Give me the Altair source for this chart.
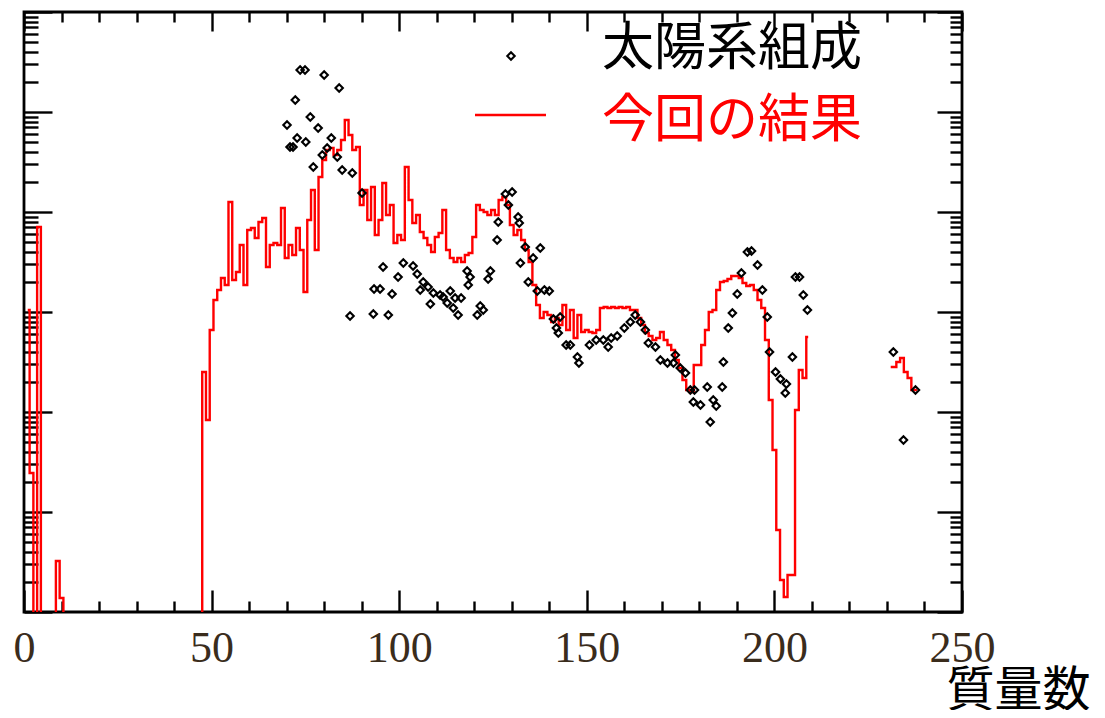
import altair as alt
import pandas as pd

# ---------------- data ----------------
# log10 of abundance; -9 marks values that fall below the plotted range
red_mass_low = [1, 2, 3, 4, 5, 6, 7, 8, 9, 10, 11, 47]
red_log10_low = [-2.98, -4.61, -9, -2.15, -9, -9, -9, -9, -5.49, -5.86, -9, -9]

red_mass_mid = list(range(48, 210))
red_log10_mid = [
    -3.60, -4.08, -3.18, -2.88, -2.78, -2.66, -2.73, -1.90, -2.68, -2.60,  # 48-57
    -2.33, -2.73, -2.18, -2.16, -2.26, -2.10, -2.06, -2.55, -2.33, -2.31,  # 58-67
    -2.33, -1.96, -2.46, -2.33, -2.43, -2.16, -2.38, -2.80, -2.08, -1.78,  # 68-77
    -2.38, -1.65, -1.48, -1.38, -1.36, -1.43, -1.38, -1.28, -1.08, -1.23,  # 78-87
    -1.38, -1.35, -1.93, -1.78, -2.08, -1.75, -2.23, -2.08, -1.71, -2.03,  # 88-97
    -1.93, -2.31, -2.23, -2.28, -1.55, -1.88, -2.11, -2.03, -2.20, -2.26,  # 98-107
    -2.33, -2.40, -2.25, -2.21, -1.98, -2.38, -2.46, -2.50, -2.46, -2.50,  # 108-117
    -2.43, -2.41, -2.25, -1.93, -1.98, -2.00, -2.03, -1.98, -2.03, -1.88,  # 118-127
    -1.85, -1.93, -2.13, -2.23, -2.18, -2.28, -2.38, -2.50, -2.73, -2.93,  # 128-137
    -3.06, -3.00, -3.03, -3.10, -3.06, -3.13, -2.93, -3.18, -2.98, -3.26,  # 138-147
    -3.03, -3.20, -3.18, -3.20, -3.21, -3.18, -2.96, -2.95, -2.96, -2.95,  # 148-157
    -2.96, -2.95, -2.96, -2.95, -2.98, -2.98, -3.06, -3.13, -3.21, -3.24,  # 158-167
    -3.28, -3.26, -3.20, -3.28, -3.33, -3.38, -3.48, -3.56, -3.68, -3.78,  # 168-177
    -3.80, -3.53, -3.53, -3.33, -3.18, -3.00, -2.98, -2.78, -2.70, -2.69,  # 178-187
    -2.67, -2.64, -2.64, -2.66, -2.71, -2.74, -2.73, -2.78, -2.88, -2.96,  # 188-197
    -3.28, -3.88, -4.38, -5.18, -5.68, -5.85, -5.63, -5.63, -3.98, -3.58,  # 198-207
    -3.66, -3.25,                                                          # 208-209
]

red_mass_tail = [231, 232, 233, 234, 235, 236, 237, 238]
red_log10_tail = [-3.55, -3.55, -3.50, -3.46, -3.60, -3.66, -3.78, -3.78]

solar_mass = [
    70.1, 70.9, 71.7, 72.3, 72.8, 73.6, 74.9, 75.1, 76.3, 77.1,
    78.4, 79.5, 80.0, 80.8, 81.9, 83.5, 84.0, 84.8, 86.9, 87.5,
    90.1, 93.1, 93.3, 94.9, 95.7, 97.1, 98.1, 99.7, 101.1, 103.7,
    104.8, 105.6, 106.4, 107.7, 108.3, 109.1, 110.9, 111.7, 112.8, 113.6,
    114.4, 114.9, 115.7, 116.5, 118.1, 118.4, 118.9, 120.8, 121.6, 122.4,
    123.7, 124.3, 126.1, 126.4, 128.3, 129.1, 130.1, 131.7, 132.0, 132.3,
    133.6, 134.4, 135.7, 136.8, 137.6, 138.7, 140.0, 141.1, 141.9, 142.4,
    142.9, 144.5, 145.6, 147.5, 147.9, 150.7, 152.5, 154.4, 155.7, 156.5,
    158.1, 160.0, 161.6, 162.9, 164.3, 165.6, 166.4, 168.3, 169.6, 171.5,
    173.1, 173.6, 174.9, 176.3, 177.6, 178.4, 178.7, 180.3, 182.1, 182.9,
    183.7, 184.5, 186.1, 186.4, 187.7, 188.8, 190.1, 191.2, 192.8, 193.9,
    195.5, 196.8, 198.1, 198.7, 200.3, 201.6, 202.9, 203.2, 204.8, 205.6,
    206.7, 207.7, 208.8, 231.7, 234.4, 237.6,
]
solar_log10 = [
    -1.13, -1.35, -1.35, -0.88, -1.26, -0.58, -0.58, -1.30, -1.05, -1.55,
    -1.16, -1.43, -0.63, -1.36, -1.26, -1.45, -0.76, -1.58, -3.04, -1.61,
    -1.81, -3.02, -2.77, -2.77, -2.55, -3.03, -2.82, -2.65, -2.51, -2.54,
    -2.62, -2.78, -2.70, -2.75, -2.92, -2.81, -2.83, -2.85, -2.91, -2.79,
    -2.96, -2.86, -3.03, -2.86, -2.59, -2.73, -2.65, -3.03, -2.94, -2.98,
    -2.67, -2.59, -2.28, -2.10, -1.82, -1.93, -1.80, -2.05, -2.11, -2.51,
    -2.35, -2.70, -2.46, -2.79, -2.36, -2.78, -2.79, -3.07, -3.16, -3.21,
    -3.05, -3.33, -3.33, -3.45, -3.51, -3.33, -3.28, -3.28, -3.35, -3.26,
    -3.24, -3.16, -3.10, -3.03, -3.10, -3.18, -3.31, -3.35, -3.48, -3.51,
    -3.51, -3.43, -3.56, -3.61, -3.78, -3.90, -3.78, -3.93, -3.75, -4.10,
    -3.88, -3.94, -3.75, -3.50, -3.16, -3.01, -2.82, -2.61, -2.40, -2.39,
    -2.53, -2.78, -3.05, -3.40, -3.60, -3.67, -3.81, -3.72, -3.45, -2.65,
    -2.65, -2.83, -2.98, -3.40, -4.28, -3.78,
]

x_tick_values = [0, 50, 100, 150, 200, 250]
x_minor_values = [10, 20, 30, 40, 60, 70, 80, 90, 110, 120, 130, 140,
                  160, 170, 180, 190, 210, 220, 230, 240]
y_decades = [1e-6, 1e-5, 1e-4, 1e-3, 1e-2, 1e-1, 1.0]
legend_labels = ["太陽系組成", "今回の結果"]
x_title = "質量数"

# ---------------- tables ----------------
red_df = pd.DataFrame({
    "mass": red_mass_low + red_mass_mid + red_mass_tail,
    "log10": red_log10_low + red_log10_mid + red_log10_tail,
    "seg": ["a"] * (len(red_mass_low) + len(red_mass_mid)) + ["b"] * len(red_mass_tail),
})
red_df["abundance"] = 10.0 ** red_df["log10"]

solar_df = pd.DataFrame({"mass": solar_mass, "log10": solar_log10})
solar_df["abundance"] = 10.0 ** solar_df["log10"]

y_minor_values = [k * d for d in y_decades[:-1] for k in range(2, 10)]

W, H = 938, 600
xs = alt.Scale(domain=[0, 250], nice=False, zero=False)
ys = alt.Scale(type="log", domain=[1e-6, 1], nice=False)

TICK = dict(domain=False, grid=False, labels=False, title=None,
            tickColor="black", tickWidth=2.4)


def tick_axis(values, size, orient):
    return alt.Axis(values=values, tickSize=size, offset=-size, orient=orient, **TICK)


label_axis = alt.Axis(
    values=x_tick_values, ticks=False, domain=False, grid=False,
    labelFont="Liberation Serif", labelFontSize=44, labelColor="#3a2c1c",
    labelPadding=14, labelFlush=False, labelOverlap=False,
    title=x_title, titleFont="Noto Sans CJK JP", titleFontSize=48,
    titleFontWeight="normal", titleColor="black",
    titleX=1066, titleY=93, titleAlign="right", titleBaseline="alphabetic",
)

red_line = alt.Chart(red_df).mark_line(
    color="#ff0000", strokeWidth=2.4, interpolate="step", clip=True
).encode(
    x=alt.X("mass:Q", scale=xs, axis=label_axis),
    y=alt.Y("abundance:Q", scale=ys, axis=tick_axis(y_decades, 28, "left")),
    detail="seg:N",
    order="mass:Q",
)

solar_pts = alt.Chart(solar_df).mark_point(
    shape="diamond", filled=False, color="black", size=55, strokeWidth=2.1,
    opacity=1, clip=True
).encode(
    x=alt.X("mass:Q", scale=xs, axis=tick_axis(x_tick_values, 22, "bottom")),
    y=alt.Y("abundance:Q", scale=ys, axis=tick_axis(y_minor_values, 14, "left")),
)

ghost1 = alt.Chart(solar_df).mark_point(opacity=0).encode(
    x=alt.X("mass:Q", scale=xs, axis=tick_axis(x_minor_values, 11, "bottom")),
    y=alt.Y("abundance:Q", scale=ys, axis=tick_axis(y_decades, 25, "right")),
)
ghost2 = alt.Chart(solar_df).mark_point(opacity=0).encode(
    x=alt.X("mass:Q", scale=xs, axis=tick_axis(x_tick_values, 19, "top")),
    y=alt.Y("abundance:Q", scale=ys, axis=tick_axis(y_minor_values, 12, "right")),
)
ghost3 = alt.Chart(solar_df).mark_point(opacity=0).encode(
    x=alt.X("mass:Q", scale=xs, axis=tick_axis(x_minor_values, 10, "top")),
    y=alt.Y("abundance:Q", scale=ys, axis=None),
)

leg1 = pd.DataFrame({"label": [legend_labels[0]]})
leg2 = pd.DataFrame({"label": [legend_labels[1]]})

leg_text1 = alt.Chart(leg1).mark_text(
    align="left", baseline="middle", font="Noto Sans CJK JP", fontSize=52, color="black"
).encode(x=alt.value(578), y=alt.value(37), text="label:N")
leg_text2 = alt.Chart(leg2).mark_text(
    align="left", baseline="middle", font="Noto Sans CJK JP", fontSize=52, color="#ff0000"
).encode(x=alt.value(578), y=alt.value(109), text="label:N")
leg_sym1 = alt.Chart(leg1).mark_point(
    shape="diamond", filled=False, color="black", size=55, strokeWidth=2.1, opacity=1
).encode(x=alt.value(487), y=alt.value(44))
leg_sym2 = alt.Chart(leg2).mark_rule(color="#ff0000", strokeWidth=2.4).encode(
    x=alt.value(451), x2=alt.value(522), y=alt.value(103)
)

chart = alt.layer(
    red_line, solar_pts, ghost1, ghost2, ghost3,
    leg_text1, leg_text2, leg_sym1, leg_sym2,
).resolve_axis(
    x="independent", y="independent"
).properties(
    width=W, height=H,
    background="white",
    autosize=alt.AutoSizeParams(type="none"),
    padding={"left": 16, "top": 4, "right": 135, "bottom": 98},
).configure_view(
    stroke="black", strokeWidth=2.8
)

chart.save("out.html", embed_options={"renderer": "svg", "actions": False})
